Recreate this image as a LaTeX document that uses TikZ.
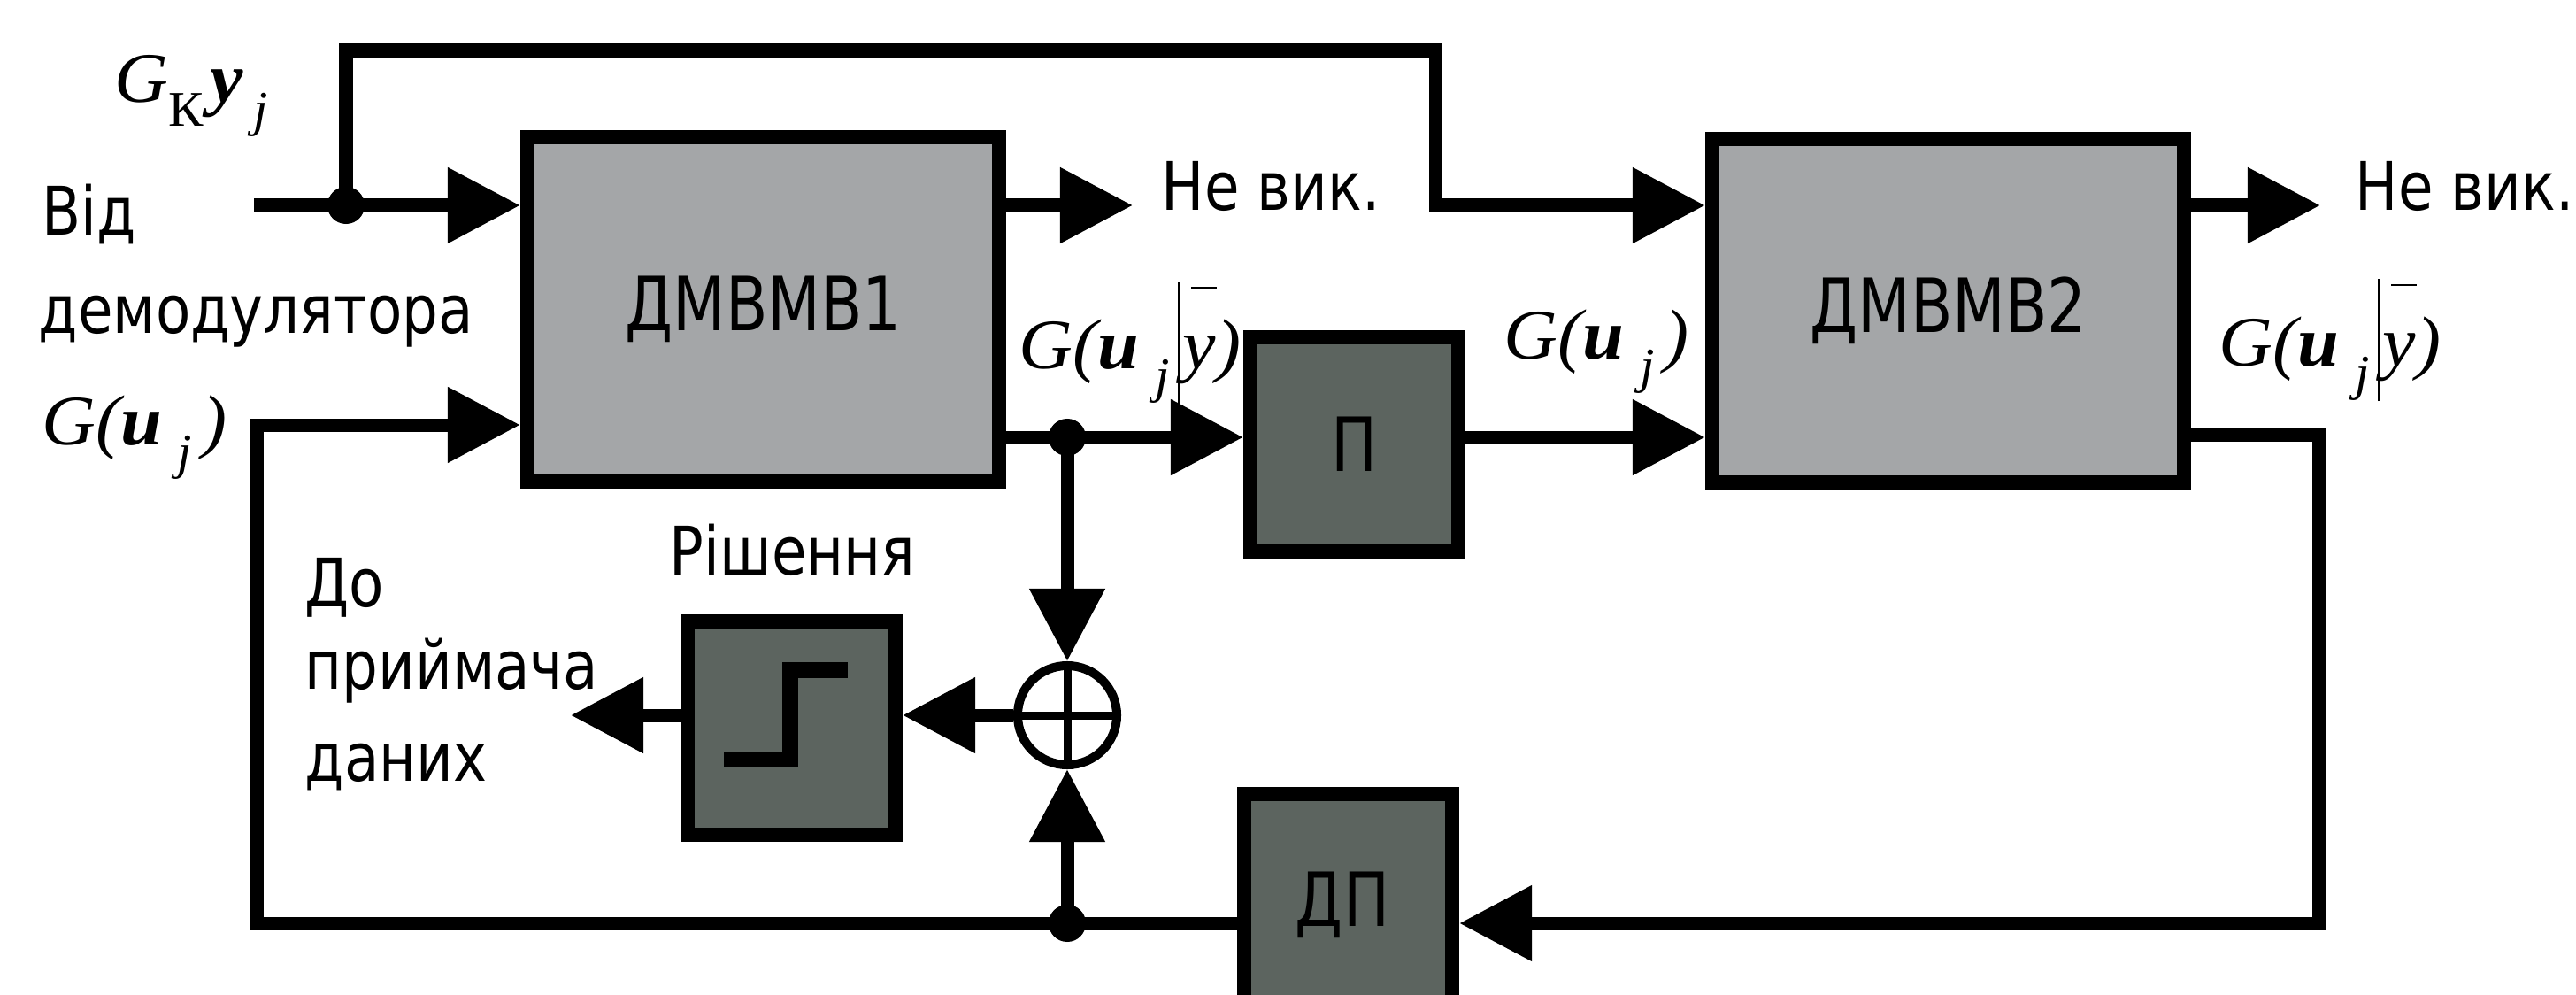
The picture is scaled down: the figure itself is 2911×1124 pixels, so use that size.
\documentclass[tikz,border=0pt]{standalone}
\usepackage{fontspec}
\setmainfont{DejaVu Sans}
\newfontfamily\sidef[FakeStretch=0.85]{DejaVu Sans}
\newfontfamily\boxfnt[FakeStretch=0.82]{DejaVu Sans}
\newfontfamily\serf[FakeStretch=1.05]{Liberation Serif}
\usetikzlibrary{arrows.meta,calc}
\definecolor{bigfill}{RGB}{164,166,168}
\definecolor{smallfill}{RGB}{92,100,95}
\newcommand\lsub[1]{\raisebox{-0.34em}{\fontsize{16}{16}\selectfont #1}}
\newcommand\GuJ{G(\textbf{u}\kern0.22em\lsub{j}\kern0.14em)}
\newcommand\GuJy{G(\textbf{u}\kern0.22em\lsub{j}\kern0.12em\rule[-0.5em]{0.03em}{1.72em}\kern0.04em\rlap{\kern0.12em\rule[1.12em]{0.36em}{0.03em}}y)}
\tikzset{
  conn/.style={line width=0.15cm, line join=miter},
  arr/.style={conn, -{Triangle[length=0.82cm,width=0.82cm]}},
  bigbox/.style={draw, line width=0.16cm, fill=bigfill, minimum width=5.33cm, minimum height=3.88cm, inner sep=0, font=\boxfnt\fontsize{24}{28}\selectfont},
  smallbox/.style={draw, line width=0.16cm, fill=smallfill, minimum width=2.35cm, minimum height=2.41cm, inner sep=0, font=\boxfnt\fontsize{24}{28}\selectfont},
  jdot/.style={circle, fill=black, inner sep=0, minimum size=0.42cm},
  sidetxt/.style={inner sep=0, anchor=base west, font=\sidef\fontsize{21.5}{24}\selectfont},
  sertxt/.style={inner sep=0, anchor=base west, font=\serf\itshape\fontsize{22.8}{26}\selectfont},
  sumnode/.style={circle, draw, line width=0.1cm, minimum size=1.12cm, inner sep=0}
}
\begin{document}
\begin{tikzpicture}[x=0.01cm, y=-0.01cm]
\useasboundingbox (0,0) rectangle (2911,1124);
\fill[white] (0,0) rectangle (2911,1124);

% blocks
\node[bigbox] (dm1) at (862.5,349.5) {ДМВМВ1};
\node[bigbox] (dm2) at (2201.5,351) {ДМВМВ2};
\node[smallbox] (P) at (1530.5,502) {П};
\node[smallbox] (dec) at (894.5,822.5) {};
\node[smallbox, minimum height=2.62cm] (DP) at (1523.5,1028) {};
\node[inner sep=0, font=\boxfnt\fontsize{24}{28}\selectfont] (DPt) at (1517,1022) {ДП};
\node[sumnode] (sum) at (1206,808) {};

% step symbol in decision block
\draw[line width=0.18cm, line join=miter] ($(dec)+(-77,35)$) -- ($(dec)+(-2,35)$) -- ($(dec)+(-2,-66)$) -- ($(dec)+(63,-66)$);
% cross in summator
\draw[line width=0.09cm] (sum.north) -- (sum.south) (sum.west) -- (sum.east);

% junctions and corners
\coordinate (in0) at (287,232);
\node[jdot] (jA) at (391,232) {};
\coordinate (t1) at (391,57);
\coordinate (t2) at (1622,57);
\coordinate (t3) at (1622,232);
\coordinate (o1) at (1280,232);
\coordinate (o2) at (2622,232);
\node[jdot] (j1) at (1206,494) {};
\coordinate (o3) at (645,808);
\coordinate (r1) at (2620,491);
\coordinate (r2) at (2620,1043);
\node[jdot] (j2) at (1206,1043) {};
\coordinate (l1) at (290,1043);
\coordinate (l2) at (290,480);

% connectors
\draw[arr] (in0) -- (in0 -| dm1.west);
\draw[arr] (jA.center) -- (t1) -- (t2) -- (t3) -- (t3 -| dm2.west);
\draw[arr] (o1 -| dm1.east) -- (o1);
\draw[arr] (o2 -| dm2.east) -- (o2);
\draw[conn] (j1 -| dm1.east) -- (j1.center);
\draw[arr] (j1.center) -- (j1 -| P.west);
\draw[arr] (P.east |- j1) -- (j1 -| dm2.west);
\draw[arr] (j1.center) -- (sum.north);
\draw[arr] (sum.west) -- (sum.west -| dec.east);
\draw[arr] (dec.west |- sum) -- (o3);
\draw[arr] (r1 -| dm2.east) -- (r1) -- (r2) -- (r2 -| DP.east);
\draw[arr] (DP.west |- j2) -- (l1) -- (l2) -- (l2 -| dm1.west);
\draw[arr] (j2.center) -- (sum.south);

% labels
\node[sertxt] (lgk) at (129,115) {G\lsub{\upshape К}\kern0.1em\textbf{y}\kern0.14em\lsub{j}};
\node[sidetxt] (lvid) at (47,265) {Від};
\node[sidetxt] (ldem) at (43,376) {демодулятора};
\node[sertxt] (lgu0) at (47,502) {\GuJ};
\node[sidetxt] (lne1) at (1312,237) {Не вик.};
\node[sidetxt] (lne2) at (2661,237) {Не вик.};
\node[sertxt] (lgy1) at (1151,416) {\GuJy};
\node[sertxt] (lgu1) at (1699,405) {\GuJ};
\node[sertxt] (lgy2) at (2507,413) {\GuJy};
\node[sidetxt] (lrish) at (756,649) {Рішення};
\node[sidetxt] (ldo) at (344,685) {До};
\node[sidetxt] (lpr) at (344,778) {приймача};
\node[sidetxt] (ldan) at (344,882) {даних};
\end{tikzpicture}
\end{document}
